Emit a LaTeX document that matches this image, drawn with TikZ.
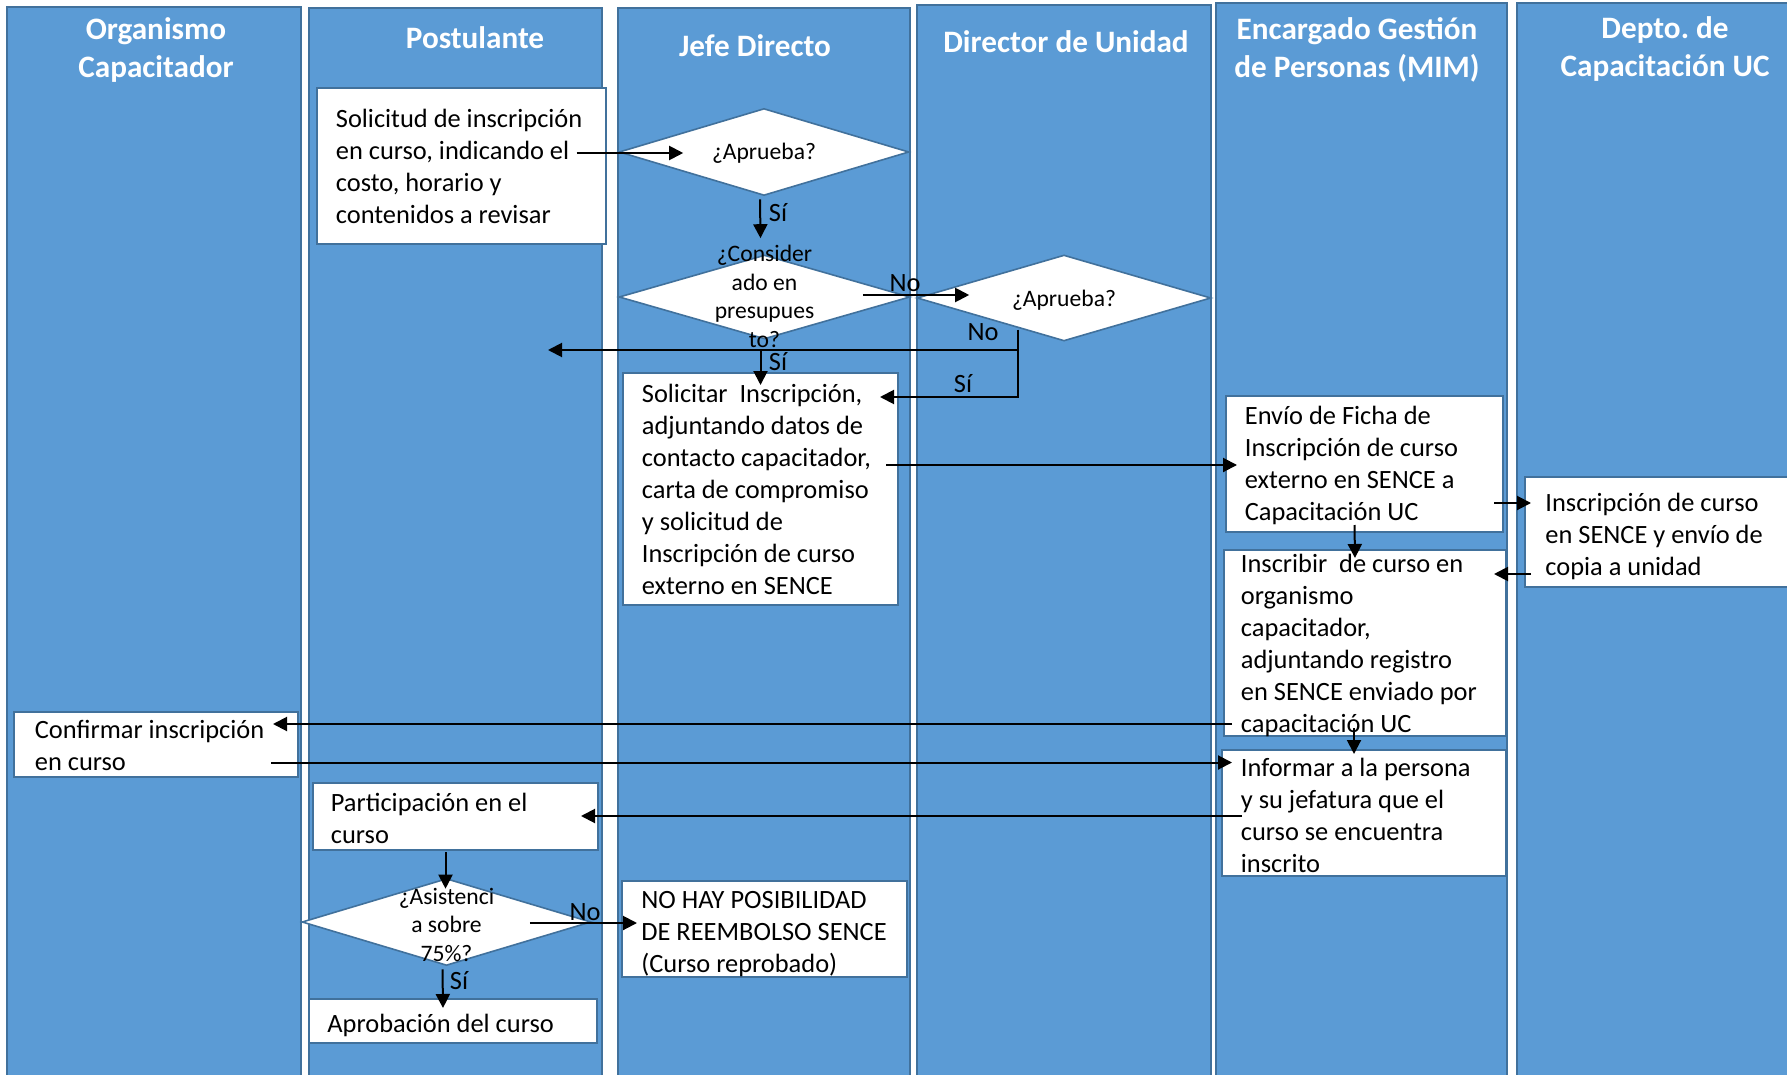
\documentclass[tikz,border=0pt]{standalone}
\usepackage{fontspec}
\setmainfont{Carlito}
\usetikzlibrary{arrows.meta,shapes.geometric,calc}
\definecolor{lanefill}{HTML}{5B9BD5}
\definecolor{laneline}{HTML}{41719C}
\frenchspacing
\begin{document}
\begin{tikzpicture}[x=0.5pt,y=-0.5pt,
  lane/.style={fill=lanefill,draw=laneline,line width=1pt},
  head/.style={text=white,font=\fontsize{15.6pt}{19pt}\selectfont\bfseries,align=center,inner sep=0pt},
  box/.style 2 args={draw=laneline,fill=white,line width=1pt,inner sep=0pt,minimum width=#1,minimum height=#2},
  btext/.style={anchor=west,align=left,inner xsep=9pt,inner ysep=0pt,
    font=\fontsize{13.2pt}{16pt}\selectfont,execute at begin node=\strut,execute at end node=\strut},
  dia/.style={diamond,draw=laneline,fill=white,line width=0.8pt,inner sep=0pt},
  dtext/.style={align=center,inner sep=0pt,font=\fontsize{11.8pt}{14.3pt}\selectfont,
    execute at begin node=\strut,execute at end node=\strut},
  lbl/.style={inner sep=0pt,font=\fontsize{13.2pt}{16pt}\selectfont},
  arr/.style={line width=1pt,-{Triangle[length=7pt,width=7pt]}}]
\useasboundingbox (0,0) rectangle (1787,1075);
\fill[white] (0,0) rectangle (1787,1075);
% lanes
\foreach \a/\t/\b in {7/7/301, 309/8/602, 618/8/910, 917/5/1210.5, 1216/3.5/1507, 1517/3/1800}
  \filldraw[lane] (\a,\t) rectangle (\b,1085);
% headers
\node[head] (h1) at (156,50) {Organismo\\Capacitador};
\node[head] (h2) at (475,38) {Postulante};
\node[head] (h3) at (755,45.5) {Jefe Directo};
\node[head] (h4) at (1066,42) {Director de Unidad};
\node[head] (h5) at (1357,49.5) {Encargado Gestión\\de Personas (MIM)};
\node[head] (h6) at (1665,49) {Depto. de\\Capacitación UC};
% boxes
\node[box={144.5pt}{78pt}] (A) at (461,166) {};
\node[btext] (At) at ($(A.west)+(2,5.5)$)
  {Solicitud de inscripción\\en curso, indicando el\\costo, horario y\\contenidos a revisar};
\node[box={137.5pt}{116pt}] (B) at (760.5,489) {};
\node[btext] (Bt) at ($(B.west)+(1.5,5.5)$)
  {Solicitar~~Inscripción,\\adjuntando datos de\\contacto capacitador,\\carta de compromiso\\y solicitud de\\Inscripción de curso\\externo en SENCE};
\node[box={138.5pt}{68pt}] (C) at (1364.5,464) {};
\node[btext] (Ct) at ($(C.west)+(1.5,4.5)$)
  {Envío de Ficha de\\Inscripción de curso\\externo en SENCE a\\Capacitación UC};
\node[box={135pt}{55pt}] (E) at (1660,532) {};
\node[btext] (Et) at ($(E.west)+(3,7.5)$)
  {Inscripción de curso\\en SENCE y envío de\\copia a unidad};
\node[box={141pt}{93pt}] (F) at (1365,643) {};
\node[btext] (Ft) at ($(F.west)+(-0.5,5.5)$)
  {Inscribir~~de curso en\\organismo\\capacitador,\\adjuntando registro\\en SENCE enviado por\\capacitación UC};
\node[box={142pt}{63pt}] (G) at (1364,813) {};
\node[btext] (Gt) at ($(G.west)+(1.5,7.5)$)
  {Informar a la persona\\y su jefatura que el\\curso se encuentra\\inscrito};
\node[box={142pt}{32.5pt}] (H) at (156,744.5) {};
\node[btext] (Ht) at ($(H.west)+(3.5,5.5)$) {Confirmar inscripción\\en curso};
\node[box={142.5pt}{33.5pt}] (I) at (455.5,816.5) {};
\node[btext] (It) at ($(I.west)+(0.5,6.5)$) {Participación en el\\curso};
\node[box={142.5pt}{48pt}] (J) at (764.5,929) {};
\node[btext] (Jt) at ($(J.west)+(2,7.5)$) {NO HAY POSIBILIDAD\\DE REEMBOLSO SENCE\\(Curso reprobado)};
\node[box={144pt}{22pt}] (K) at (453,1021) {};
\node[btext] (Kt) at ($(K.west)+(1,5.5)$) {Aprobación del curso};
% diamonds
\node[dia,minimum width=145pt,minimum height=43.5pt] (D1) at (764,152) {};
\node[dtext] (D1t) at ($(D1.center)+(0,2)$) {¿Aprueba?};
\node[dia,minimum width=145.5pt,minimum height=42pt] (D2) at (764.5,297) {};
\node[dtext] (D2t) at ($(D2.center)+(0,3.5)$) {¿Consider\\ado en\\presupues\\to?};
\node[dia,minimum width=147pt,minimum height=43pt] (D3) at (1064,298) {};
\node[dtext] (D3t) at ($(D3.center)+(0,3)$) {¿Aprueba?};
\node[dia,minimum width=144.5pt,minimum height=43.5pt] (D4) at (446.5,922) {};
\node[dtext] (D4t) at ($(D4.center)+(0,7)$) {¿Asistenci\\a sobre\\75\%?};
% labels
\node[lbl] (s1) at (778,213) {Sí};
\node[lbl] (n1) at (905,283) {No};
\node[lbl] (n2) at (983,332) {No};
\node[lbl] (s3) at (963,384) {Sí};
\node[lbl] (s2) at (778,362) {Sí};
\node[lbl] (n3) at (585,912) {No};
\node[lbl] (s4) at (459,981) {Sí};
% connector end points
\coordinate (a1) at ($(A.east|-D1)+(-30,1)$);
\coordinate (d1x) at ($(D1.west)+(65,0)$);
\coordinate (k) at ($(D3.south)+(-46,-12)$);
\coordinate (nofree) at (548,350);
\coordinate (bs) at ($(B.north east)+(-19,25)$);
\coordinate (b1) at ($(B.east)+(-13,-24)$);
\coordinate (cx) at ($(C.west)+(12,0)$);
\coordinate (d2) at ($(D2.east)+(-48,-2)$);
\coordinate (d3x) at ($(D3.west)+(53,0)$);
\coordinate (c1) at ($(C.east)+(-10,39)$);
\coordinate (ex) at ($(E.west)+(7,0)$);
\coordinate (e1) at ($(E.west)+(7,42)$);
\coordinate (fx) at ($(F.east)+(-13,0)$);
\coordinate (f1) at ($(F.west)+(9,81)$);
\coordinate (hx) at ($(H.east)+(-26,0)$);
\coordinate (h1e) at ($(H.east)+(-28,18)$);
\coordinate (gx) at ($(G.west)+(11,0)$);
\coordinate (g1) at ($(G.west)+(21,3)$);
\coordinate (ix) at ($(I.east)+(-18,0)$);
\coordinate (d4) at ($(D4.east)+(-62,1)$);
\coordinate (jx) at ($(J.west)+(16,0)$);
% connectors
\draw[arr] (a1) -- (a1 -| d1x);
\draw[arr] ($(D1.south)+(-4,3)$) -- ($(D2.north)+(-4,-16)$);
\draw[arr] (d2) -- (d2 -| d3x);
\draw[arr] (k) |- (nofree);
\draw[arr] (k) |- (bs);
\draw[arr] ($(D2.south -| B.north)+(0,11)$) -- ($(B.north)+(0,13)$);
\draw[arr] (b1) -- (b1 -| cx);
\draw[arr] (c1) -- (c1 -| ex);
\draw[arr] (e1) -- (e1 -| fx);
\draw[arr] ($(C.south)+(-10,-8)$) -- ($(F.north)+(-10,9)$);
\draw[arr] ($(F.south)+(-11,-9)$) -- ($(G.north)+(-10,5)$);
\draw[arr] (f1) -- (f1 -| hx);
\draw[arr] (h1e) -- (h1e -| gx);
\draw[arr] (g1) -- (g1 -| ix);
\draw[arr] ($(I.south)+(-10,1)$) -- ($(D4.north)+(-1,11)$);
\draw[arr] (d4) -- (d4 -| jx);
\draw[arr] ($(D4.south)+(-4,3)$) -- ($(K.north)+(-10,10)$);
\end{tikzpicture}
\end{document}
